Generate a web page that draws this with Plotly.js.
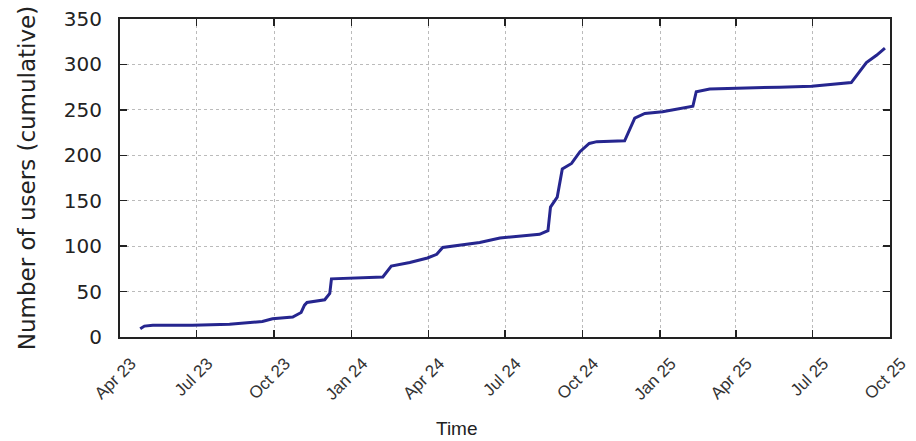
<!DOCTYPE html>
<html>
<head>
<meta charset="utf-8">
<script src="https://cdn.plot.ly/plotly-3.0.1.min.js"></script>
<style>html,body{margin:0;padding:0;background:#fff}#chart{width:916px;height:441px}</style>
</head>
<body>
<div id="chart"></div>
<script>
const dates = [
  "2023-04-25","2023-04-30","2023-05-10","2023-06-26","2023-08-09","2023-09-17","2023-09-29",
  "2023-10-08","2023-10-23","2023-11-02","2023-11-06","2023-11-09","2023-11-30","2023-12-06",
  "2023-12-08","2024-02-07","2024-02-17","2024-03-10","2024-03-31","2024-04-11","2024-04-18",
  "2024-06-01","2024-06-25","2024-08-11","2024-08-21","2024-08-24","2024-09-01","2024-09-07",
  "2024-09-18","2024-09-28","2024-10-09","2024-10-18","2024-11-20","2024-12-02","2024-12-14",
  "2025-01-04","2025-02-09","2025-02-13","2025-03-01","2025-05-23","2025-06-30","2025-08-16",
  "2025-09-03","2025-09-15","2025-09-25"
];
const users = [
  9,12,13,13,14,17,20,
  21,22,27,35,38,41,48,
  64,66,78,82,87,91,98.5,
  104,109,113,117,143,154,185,
  191,204,213,215,216,241,246,
  248,254,270,273,275,276,280,
  302,310,318
];
const xTickStart = "2023-04-01";
const xRange = ["2023-04-01","2025-10-01"];
const yRange = [0,350];
const xTitle = "Time";
const yTitle = "Number of users (cumulative)";

const font = "Liberation Sans, Arial, Helvetica, sans-serif";
const wide = "DejaVu Sans, sans-serif";

Plotly.newPlot("chart", [{
  x: dates, y: users, type: "scatter", mode: "lines",
  line: {color: "#26268f", width: 3},
  hoverinfo: "skip"
}], {
  width: 916, height: 441,
  margin: {l: 120, r: 26, t: 19, b: 104},
  paper_bgcolor: "#fff", plot_bgcolor: "#fff",
  showlegend: false,
  font: {family: font, color: "#222"},
  xaxis: {
    type: "date", range: xRange, tick0: xTickStart, dtick: "M3",
    tickformat: "%b %y", tickangle: -45,
    tickfont: {size: 17, color: "#333"},
    ticks: "inside", ticklen: 7, tickcolor: "#222", tickwidth: 1.5,
    showline: true, linecolor: "#222", linewidth: 2, mirror: "allticks",
    showgrid: true, gridcolor: "#bbb", griddash: "dot", gridwidth: 1,
    zeroline: false, ticklabelshift: 11, ticklabelstandoff: 8
  },
  yaxis: {
    range: yRange, dtick: 50, tick0: 0,
    tickfont: {family: wide, size: 20, color: "#222"},
    ticks: "inside", ticklen: 7, tickcolor: "#222", tickwidth: 1.5,
    showline: true, linecolor: "#222", linewidth: 2, mirror: "allticks",
    showgrid: true, gridcolor: "#bbb", griddash: "dot", gridwidth: 1,
    zeroline: false, ticklabelstandoff: 12,
    title: {text: yTitle, font: {family: wide, size: 23, color: "#222"}, standoff: 22}
  },
  annotations: [{
    text: xTitle, xref: "paper", yref: "paper",
    x: (457 - 120) / 770, y: -(428 - 337) / 318,
    xanchor: "center", yanchor: "middle", showarrow: false,
    font: {family: font, size: 19, color: "#222"}
  }]
}, {displayModeBar: false, staticPlot: true});
</script>
</body>
</html>
